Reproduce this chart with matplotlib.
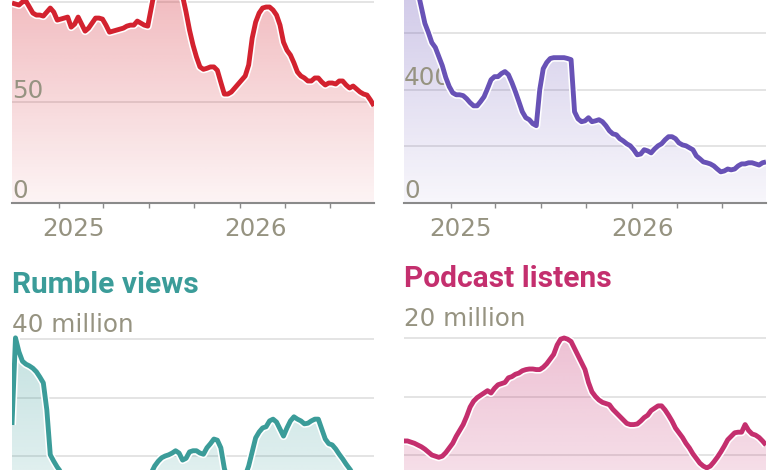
import matplotlib
matplotlib.use("Agg")
import matplotlib.pyplot as plt
import matplotlib.dates as mdates
import matplotlib.patheffects as pe
from matplotlib.colors import to_rgb
from matplotlib.transforms import blended_transform_factory
import numpy as np
import pandas as pd

# ---------------- data ----------------
dates = pd.date_range("2024-09-29", periods=105, freq="7D")

top_left_values = [
    99.5, 99, 98.5, 100, 100.5, 97.5, 94.5, 93.5, 93.5, 93,
    95, 97, 95, 91, 91.5, 92, 92.5, 87.5, 89, 92.5,
    89, 85.5, 87, 89.5, 92, 92, 91.5, 88.5, 85, 85.5,
    86, 86.5, 87, 88, 88.5, 88.5, 90.5, 89.5, 88.5, 88,
    97, 106, 112, 115, 116, 115, 113, 110, 105, 103,
    95, 86, 78.6, 72.6, 67.7, 66.5, 67, 67.7, 67.7, 66,
    60, 54.2, 54.2, 55.2, 57.2, 59.2, 61.2, 63.2, 68.7, 82,
    90, 94.5, 97, 97.5, 97.5, 96, 93.5, 88.5, 80, 76,
    73.6, 69.7, 65.2, 63.2, 62.2, 60.7, 60.7, 62.2, 62.2, 60.2,
    58.7, 59.7, 59.7, 59.2, 60.7, 60.7, 58.7, 57.2, 58.2, 56.7,
    55.2, 54.2, 53.7, 51.2, 48.3,
]

top_right_values = [
    900, 870, 830, 790, 745, 690, 634, 602, 566, 549,
    517, 485, 443, 411, 389, 382, 382, 379, 368, 354,
    343, 343, 358, 375, 404, 435, 446, 446, 457, 464,
    453, 425, 393, 358, 322, 301, 294, 280, 273, 400,
    474, 496, 510, 513, 513, 513, 513, 510, 506, 322,
    297, 287, 290, 301, 287, 290, 294, 287, 273, 255,
    244, 241, 227, 219, 209, 202, 188, 170, 173, 188,
    184, 177, 191, 202, 209, 223, 234, 234, 227, 212,
    205, 202, 195, 188, 166, 156, 145, 142, 138, 131,
    120, 110, 113, 120, 117, 120, 131, 138, 138, 142,
    142, 138, 134, 142, 145,
]

rumble_views_millions = [
    25.3, 40.2, 37.8, 36.2, 35.7, 35.4, 35, 34.4, 33.5, 32.5,
    27.9, 20.2, 19.1, 18.1, 17.3, 16.2, 15.4, 14.8, 14.2, 13.6,
    13.2, 13.5, 13.0, 12.6, 12.2, 12.5, 12.9, 12.4, 12.0, 11.6,
    11.9, 12.3, 12.8, 13.2, 13.7, 14.1, 14.6, 15.2, 15.8, 16.5,
    17.1, 18.3, 19.1, 19.7, 20, 20.2, 20.5, 20.9, 20.5, 19.3,
    19.6, 20.7, 20.9, 20.9, 20.5, 20.3, 21.4, 22.1, 22.9, 22.7,
    21.4, 17.9, 15.8, 14.9, 14.6, 15.0, 15.7, 16.6, 18.3, 20.7,
    23.1, 24.1, 24.8, 25, 26, 26.3, 25.8, 24.6, 23.4, 24.8,
    26, 26.7, 26.3, 26, 25.5, 25.6, 26, 26.3, 26.3, 24.6,
    22.9, 22.1, 21.9, 21.2, 20.3, 19.5, 18.6, 17.8, 17.0, 16.4,
    15.9, 15.5, 15.2, 14.9, 14.6,
]

podcast_listens_millions = [
    11.2, 11.2, 11.1, 11, 10.85, 10.7, 10.5, 10.25, 10, 9.9,
    9.8, 9.9, 10.2, 10.6, 11, 11.6, 12.1, 12.6, 13.3, 14.1,
    14.6, 14.9, 15.1, 15.3, 15.5, 15.3, 15.7, 16, 16.1, 16.2,
    16.6, 16.7, 16.9, 17, 17.2, 17.3, 17.35, 17.35, 17.3, 17.3,
    17.5, 17.8, 18.2, 18.6, 19.4, 19.9, 20, 19.9, 19.7, 19.1,
    18.5, 17.9, 17.3, 16.2, 15.4, 15, 14.7, 14.5, 14.4, 14.3,
    13.9, 13.6, 13.3, 13, 12.7, 12.6, 12.6, 12.65, 12.9, 13.2,
    13.4, 13.8, 14, 14.2, 14.2, 13.85, 13.4, 12.9, 12.3, 11.9,
    11.5, 11, 10.6, 10.1, 9.7, 9.3, 9.05, 8.9, 9.05, 9.4,
    9.8, 10.25, 10.75, 11.3, 11.6, 11.9, 11.95, 11.95, 12.6, 12.1,
    11.8, 11.7, 11.5, 11.2, 10.85,
]

year_ticks = ["2025-01-01", "2026-01-01"]
year_labels = ["2025", "2026"]
quarter_ticks = ["2025-01-01", "2025-04-01", "2025-07-01", "2025-10-01",
                 "2026-01-01", "2026-04-01", "2026-07-01"]

top_left_grid = [50, 100, 150]
top_left_labels = {0: "0", 50: "50"}
top_right_grid = [200, 400, 600, 800]
top_right_labels = {0: "0", 400: "400"}
rumble_grid = [10, 20, 30, 40]
rumble_labels = {40: "40 million"}
podcast_grid = [5, 10, 15, 20]
podcast_labels = {20: "20 million"}

titles = ["Rumble views", "Podcast listens"]

# ---------------- style ----------------
W, H = 780, 470
GRAY_TEXT = "#969381"
GRID = "#e4e4e4"
AXIS = "#8a8a8a"
RED = "#d3222f"
PURPLE = "#6852b6"
TEAL = "#3b9c99"
MAGENTA = "#c42f6e"
LABEL_FONT = "DejaVu Sans"
TITLE_FONT = "Roboto"

fig = plt.figure(figsize=(W / 100, H / 100), dpi=100)
fig.patch.set_facecolor("white")


def make_axes(left_px, right_px, base_px, px_per_unit, ymax):
    h = ymax * px_per_unit
    ax = fig.add_axes([left_px / W, (H - base_px) / H,
                       (right_px - left_px) / W, h / H])
    ax.set_ylim(0, ymax)
    return ax


def draw_panel(ax, values, color, grid, labels, label_off_px, alpha_ref,
               show_xaxis=True, year_dx=0):
    x = mdates.date2num(dates)
    ax.set_xlim(x[0], x[-1])
    ymax = ax.get_ylim()[1]
    for g in grid:
        ax.axhline(g, color=GRID, lw=1.4, zorder=0)
    # gradient area under the line
    poly = ax.fill_between(x, values, 0, facecolor="none", edgecolor="none")
    rgb = to_rgb(color)
    n = 256
    img = np.zeros((n, 1, 4))
    img[..., :3] = rgb
    a0, aref = 0.05, 0.30
    yy = np.linspace(0, ymax, n)
    img[..., 3] = np.clip(a0 + (aref - a0) * yy / alpha_ref, 0, 0.4)[:, None]
    im = ax.imshow(img, extent=[x[0], x[-1], 0, ymax], origin="lower",
                   aspect="auto", zorder=1, interpolation="bilinear")
    im.set_clip_path(poly.get_paths()[0], ax.transData)
    ax.set_xlim(x[0], x[-1])
    ax.set_ylim(0, ymax)
    # line with white halo
    ax.plot(x, values, color=color, lw=3.5, zorder=3,
            solid_joinstyle="round", solid_capstyle="butt",
            path_effects=[pe.Stroke(linewidth=5.8, foreground="white"),
                          pe.Normal()])
    # labels sitting on the gridlines
    tr = blended_transform_factory(ax.transAxes, ax.transData)
    for val, txt in labels.items():
        ax.annotate(txt, xy=(0, val), xycoords=tr, xytext=(0, label_off_px),
                    textcoords="offset pixels", ha="left", va="baseline",
                    fontsize=17.7, family=LABEL_FONT, color=GRAY_TEXT,
                    zorder=2, annotation_clip=False)
    for s in ["top", "right", "left"]:
        ax.spines[s].set_visible(False)
    ax.spines["bottom"].set_color(AXIS)
    ax.spines["bottom"].set_linewidth(1.5)
    ax.spines["bottom"].set_zorder(4)
    ax.set_yticks([])
    if show_xaxis:
        year_pos = mdates.date2num(pd.to_datetime(year_ticks))
        ax.set_xticks(year_pos)
        ax.set_xticklabels([])
        ax.set_xticks(mdates.date2num(pd.to_datetime(quarter_ticks)), minor=True)
        ax.tick_params(axis="x", which="both", length=3.8, width=1.0,
                       color=AXIS, direction="out")
        trx = blended_transform_factory(ax.transData, ax.transAxes)
        for pos, lab in zip(year_pos, year_labels):
            ax.annotate(lab, xy=(pos, 0), xycoords=trx,
                        xytext=(year_dx, -33), textcoords="offset pixels",
                        ha="center", va="baseline", fontsize=17.7,
                        family=LABEL_FONT, color=GRAY_TEXT,
                        annotation_clip=False)
    else:
        ax.set_xticks([])
    ax.set_facecolor("none")


ax1 = make_axes(12, 374, 203, 2.01, 125)
draw_panel(ax1, top_left_values, RED, top_left_grid, top_left_labels, 5, 101,
           year_dx=15)

ax2 = make_axes(404, 766, 203, 0.2833, 1000)
draw_panel(ax2, top_right_values, PURPLE, top_right_grid, top_right_labels, 5, 718,
           year_dx=10)

# lower panels: their baseline and dates lie below the visible area
ax3 = make_axes(12, 374, 573, 5.85, 45)
draw_panel(ax3, rumble_views_millions, TEAL, rumble_grid, rumble_labels, 7, 40,
           show_xaxis=False)

ax4 = make_axes(404, 766, 572, 11.7, 22)
draw_panel(ax4, podcast_listens_millions, MAGENTA, podcast_grid, podcast_labels,
           12, 20, show_xaxis=False)

fig.text(12 / W, (H - 293) / H, titles[0], family=TITLE_FONT, weight="bold",
         fontsize=21.5, color=TEAL, va="baseline", ha="left")
fig.text(404 / W, (H - 287) / H, titles[1], family=TITLE_FONT, weight="bold",
         fontsize=21.5, color=MAGENTA, va="baseline", ha="left")

fig.savefig("out.png", dpi=100, facecolor="white")
